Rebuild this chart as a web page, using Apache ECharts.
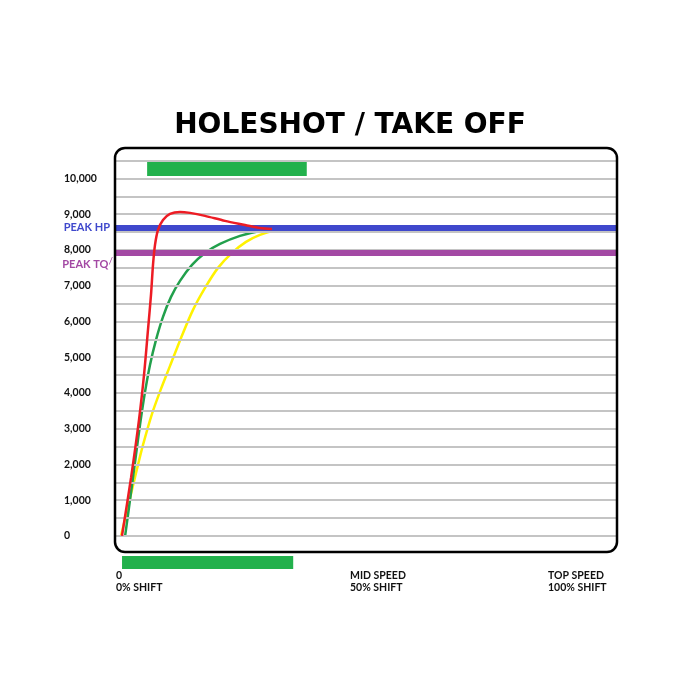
<!DOCTYPE html>
<html><head><meta charset="utf-8">
<script src="https://cdn.jsdelivr.net/npm/echarts@6/dist/echarts.min.js"></script>
<style>html,body{margin:0;padding:0;background:#fff}#c{width:700px;height:700px}</style>
</head><body><div id="c"></div>
<script>
const chartTitle = 'HOLESHOT / TAKE OFF';
const gridValues = [0,500,1000,1500,2000,2500,3000,3500,4000,4500,5000,5500,6000,6500,7000,7500,8000,8500,9000,9500,10000,10500];
const yTickValues = [0,1000,2000,3000,4000,5000,6000,7000,8000,9000,10000];

const redSpeed = [1.39, 3.19, 4.78, 5.78, 6.57, 7.17, 7.57, 7.97, 8.57, 9.56, 10.96, 12.95, 14.94, 17.93, 21.91, 25.90, 28.88, 31.27];
const redRpm   = [0, 1622, 3245, 4503, 5762, 6741, 7580, 8140, 8559, 8839, 9007, 9063, 9035, 8951, 8811, 8699, 8615, 8587];

const greenSpeed = [1.99, 2.59, 3.39, 4.18, 4.98, 5.98, 6.97, 8.17, 9.56, 11.16, 12.95, 15.34, 17.93, 20.92, 24.90, 28.88, 33.86, 40.44];
const greenRpm   = [-28, 587, 1427, 2266, 3105, 4028, 4783, 5483, 6126, 6685, 7133, 7580, 7916, 8168, 8392, 8531, 8615, 8643];

const yellowSpeed = [1.20, 2.19, 3.19, 4.38, 5.58, 7.37, 9.16, 10.96, 13.15, 15.54, 17.93, 20.52, 23.31, 26.10, 28.88, 32.27];
const yellowRpm   = [0, 587, 1175, 1874, 2545, 3413, 4112, 4755, 5538, 6322, 6937, 7497, 7916, 8224, 8420, 8559];

const peakHp = 8615;
const peakTq = 7916;
const topBarSpeed = [6.4, 38.2];
const topBarRpm = [10070, 10490];
const bottomBarSpeed = [1.4, 35.5];
const xLabelLines = [['0', '0% SHIFT'], ['MID SPEED', '50% SHIFT'], ['TOP SPEED', '100% SHIFT']];

function pairs(xs, ys) { return xs.map((x, i) => [x, ys[i]]); }

const chart = echarts.init(document.getElementById('c'));
const lblFont = 'Lato, "Open Sans", sans-serif';
const xLabelPos = [116, 350, 548];

const option = {
  backgroundColor: '#fff',
  animation: false,
  title: {
    text: chartTitle, left: 'center', top: 107,
    textStyle: { fontFamily: '"DejaVu Sans", sans-serif', fontWeight: 'bold', fontSize: 28, color: '#000' }
  },
  grid: [
    { left: 115, right: 83, top: 148, bottom: 148 },
    { left: 115, right: 83, top: 556, height: 13 }
  ],
  xAxis: [
    { type: 'value', min: 0, max: 100, show: false, gridIndex: 0 },
    { type: 'value', min: 0, max: 100, show: false, gridIndex: 1 }
  ],
  yAxis: [
    {
      type: 'value', min: -450, max: 10850, gridIndex: 0,
      axisLine: { show: false }, axisTick: { show: false }, splitLine: { show: false },
      axisLabel: {
        customValues: yTickValues, align: 'left', margin: 51,
        fontFamily: lblFont, fontWeight: 'bold', fontSize: 10.5, color: '#111',
        formatter: v => Number(v).toLocaleString('en-US')
      }
    },
    { type: 'value', min: 0, max: 1, show: false, gridIndex: 1 }
  ],
  series: [
    {
      name: 'grid', type: 'line', data: [], z: 1, silent: true,
      markLine: {
        silent: true, symbol: ['none', 'none'], animation: false,
        lineStyle: { color: '#c4c4c4', width: 2, type: 'solid' },
        label: { show: false },
        data: gridValues.map(v => ({ yAxis: v }))
      },
      markArea: {
        silent: true,
        itemStyle: { color: '#22b14c' },
        data: [[{ coord: [topBarSpeed[0], topBarRpm[0]] }, { coord: [topBarSpeed[1], topBarRpm[1]] }]]
      }
    },
    {
      name: 'peaks', type: 'line', data: [], z: 2, silent: true,
      markLine: {
        silent: true, symbol: ['none', 'none'], animation: false,
        data: [
          {
            yAxis: peakHp,
            lineStyle: { color: '#3f48cc', width: 6, type: 'solid' },
            label: {
              show: true, position: 'start', distance: 5, formatter: 'PEAK HP',
              color: '#3f48cc', fontFamily: lblFont, fontWeight: 'bold', fontSize: 11
            }
          },
          {
            yAxis: peakTq,
            lineStyle: { color: '#a349a4', width: 6, type: 'solid' },
            label: {
              show: true, position: 'start', distance: 2, offset: [0, 12],
              formatter: '{a|PEAK TQ}{b|/}',
              rich: {
                a: { color: '#a349a4', fontFamily: lblFont, fontWeight: 'bold', fontSize: 11 },
                b: { color: '#a349a4', fontFamily: lblFont, fontSize: 10, padding: [0, 0, 8, 0] }
              }
            }
          }
        ]
      }
    },
    {
      name: 'Yellow', type: 'line', data: pairs(yellowSpeed, yellowRpm), z: 3,
      smooth: 0.3, showSymbol: false, clip: false,
      lineStyle: { color: '#fff200', width: 2.5 }
    },
    {
      name: 'Green', type: 'line', data: pairs(greenSpeed, greenRpm), z: 4,
      smooth: 0.3, showSymbol: false, clip: false,
      lineStyle: { color: '#22a04c', width: 2.5 }
    },
    {
      name: 'Red', type: 'line', data: pairs(redSpeed, redRpm), z: 5,
      smooth: 0.3, showSymbol: false, clip: false,
      lineStyle: { color: '#ed1c24', width: 2.5 }
    },
    {
      name: 'bottomBar', type: 'line', data: [], xAxisIndex: 1, yAxisIndex: 1, silent: true,
      markArea: {
        silent: true,
        itemStyle: { color: '#22b14c' },
        data: [[{ coord: [bottomBarSpeed[0], 0] }, { coord: [bottomBarSpeed[1], 1] }]]
      }
    }
  ],
  graphic: [
    {
      type: 'rect', z: 100, silent: true,
      shape: { x: 115, y: 148, width: 502, height: 404, r: 10 },
      style: { fill: 'none', stroke: '#000', lineWidth: 2.5 }
    }
  ].concat(xLabelLines.map((lines, i) => ({
    type: 'text', left: xLabelPos[i], top: 570, silent: true,
    style: {
      text: lines.join('\n'), fill: '#111', font: 'bold 10.5px ' + lblFont, lineHeight: 12
    }
  })))
};
chart.setOption(option);
</script>
</body></html>
